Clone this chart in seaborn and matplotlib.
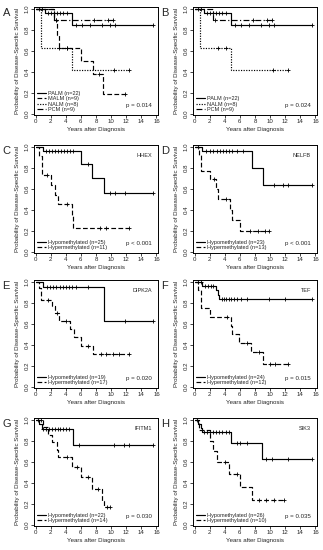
import matplotlib
matplotlib.use('Agg')
import matplotlib.pyplot as plt
import numpy as np
import pandas as pd
import seaborn as sns

# ---- Kaplan-Meier curves: step times, survival, censor times ----
# A / B : histologic subtypes
palm_t = [0, 1.2, 4.8, 15.5]
palm_s = [1.0, 0.955, 0.84, 0.84]
palm_c = [0.5, 0.8, 1.6, 2.0, 2.5, 2.9, 3.3, 3.7, 4.1, 5.3, 6.2, 7.2, 8.8, 9.8, 10.5, 15.5]

malm_t = [0, 2.5, 2.9, 3.1, 6.0, 7.6, 8.9, 12.0]
malm_s = [1.0, 0.889, 0.75, 0.625, 0.5, 0.375, 0.1875, 0.1875]
malm_c = [2.7, 4.2, 8.4, 11.8]

nalm_t = [0, 0.7, 4.8, 12.3]
nalm_s = [1.0, 0.625, 0.417, 0.417]
nalm_c = [3.1, 4.1, 10.4, 12.3]

pcm_t = [0, 2.4, 10.5]
pcm_s = [1.0, 0.889, 0.889]
pcm_c = [2.7, 7.8, 9.6, 10.3]

# C : HHEX
hhex_lo_t = [0, 1.05, 6.0, 7.5, 9.0, 15.5]
hhex_lo_s = [1.0, 0.96, 0.83, 0.70, 0.555, 0.555]
hhex_lo_c = [1.4, 1.8, 2.2, 2.6, 3.0, 3.4, 3.8, 4.2, 4.6, 5.0, 7.0, 9.8, 10.5, 11.8, 15.5]
hhex_hi_t = [0, 0.5, 0.8, 2.1, 2.6, 3.0, 4.8, 5.0, 12.3]
hhex_hi_s = [1.0, 0.909, 0.727, 0.636, 0.545, 0.4545, 0.34, 0.227, 0.227]
hhex_hi_c = [1.5, 4.2, 8.5, 9.3, 12.3]

# D : NELFB
nelfb_lo_t = [0, 1.0, 7.6, 9.1, 15.5]
nelfb_lo_s = [1.0, 0.955, 0.796, 0.637, 0.637]
nelfb_lo_c = [0.5, 1.5, 2.0, 2.5, 3.0, 3.4, 3.8, 4.2, 4.6, 5.0, 5.6, 6.4, 10.5, 11.7, 12.3, 15.5]
nelfb_hi_t = [0, 0.6, 0.8, 2.1, 2.8, 3.1, 4.7, 5.0, 6.0, 9.8]
nelfb_hi_s = [1.0, 0.923, 0.769, 0.692, 0.6, 0.5, 0.4, 0.3, 0.2, 0.2]
nelfb_hi_c = [2.6, 4.1, 7.4, 8.4, 9.3, 9.8]

# E : DIPK2A
dipk_lo_t = [0, 1.0, 9.0, 15.5]
dipk_lo_s = [1.0, 0.947, 0.63, 0.63]
dipk_lo_c = [1.5, 1.9, 2.3, 2.7, 3.2, 3.6, 4.0, 4.4, 4.8, 5.3, 7.0, 11.8, 15.5]
dipk_hi_t = [0, 0.5, 0.7, 2.2, 2.6, 3.1, 4.6, 5.1, 6.0, 7.6, 12.3]
dipk_hi_s = [1.0, 0.941, 0.824, 0.765, 0.70, 0.63, 0.55, 0.47, 0.39, 0.31, 0.31]
dipk_hi_c = [1.6, 2.8, 4.0, 7.0, 8.6, 9.3, 10.2, 11.0, 12.3]

# F : TEF
tef_lo_t = [0, 1.0, 2.8, 3.1, 3.3, 15.5]
tef_lo_s = [1.0, 0.958, 0.917, 0.875, 0.833, 0.833]
tef_lo_c = [0.5, 0.8, 1.4, 1.8, 2.2, 2.5, 3.6, 3.9, 4.2, 4.5, 4.8, 5.2, 5.6, 6.2, 7.0, 9.8, 12.0, 15.5]
tef_hi_t = [0, 0.5, 0.8, 2.0, 4.8, 5.0, 5.9, 7.5, 9.0, 12.3]
tef_hi_s = [1.0, 0.917, 0.75, 0.667, 0.583, 0.50, 0.417, 0.333, 0.222, 0.222]
tef_hi_c = [4.3, 7.0, 8.5, 10.0, 10.6, 12.3]

# G : IFITM1
ifitm_lo_t = [0, 0.5, 0.8, 4.9, 15.5]
ifitm_lo_s = [1.0, 0.955, 0.909, 0.758, 0.758]
ifitm_lo_c = [0.3, 1.0, 1.4, 1.8, 2.2, 2.6, 3.0, 3.3, 3.6, 4.0, 4.4, 5.8, 10.4, 11.7, 12.3, 15.5]
ifitm_hi_t = [0, 1.0, 1.6, 2.2, 2.8, 3.0, 4.8, 6.0, 7.5, 8.8, 9.0, 9.8]
ifitm_hi_s = [1.0, 0.929, 0.857, 0.786, 0.714, 0.643, 0.551, 0.459, 0.344, 0.229, 0.172, 0.172]
ifitm_hi_c = [0.7, 4.2, 5.5, 7.0, 8.3, 9.5, 9.8]

# H : SIK3
sik3_lo_t = [0, 0.5, 0.8, 1.0, 4.8, 8.9, 15.5]
sik3_lo_s = [1.0, 0.962, 0.923, 0.885, 0.78, 0.625, 0.625]
sik3_lo_c = [0.3, 1.3, 1.7, 2.1, 2.5, 2.9, 3.3, 3.7, 4.1, 4.5, 5.6, 6.0, 7.0, 9.5, 10.3, 12.3, 15.5]
sik3_hi_t = [0, 0.6, 2.0, 2.5, 3.0, 4.6, 6.0, 7.6, 11.8]
sik3_hi_s = [1.0, 0.9, 0.8, 0.7, 0.6, 0.48, 0.36, 0.24, 0.24]
sik3_hi_c = [4.0, 5.6, 8.5, 9.5, 10.5, 11.8]

letters = ['A', 'B', 'C', 'D', 'E', 'F', 'G', 'H']
genes = [None, None, 'HHEX', 'NELFB', 'DIPK2A', 'TEF', 'IFITM1', 'SIK3']
pvals = ['p = 0.014', 'p = 0.024', 'p < 0.001', 'p < 0.001',
         'p = 0.020', 'p = 0.015', 'p = 0.030', 'p = 0.035']
n_lo = [None, None, 25, 23, 19, 24, 22, 26]
n_hi = [None, None, 11, 13, 17, 12, 14, 10]

x_ticks = [0, 2, 4, 6, 8, 10, 12, 14, 16]
y_ticks = [0.0, 0.2, 0.4, 0.6, 0.8, 1.0]

DASHDOT = (0, (5, 2, 1, 2))
FS = 4.4       # ticks, axis labels, p values
FS_LEG = 4.0   # legend entries

sns.set_theme(style='ticks')
plt.rcParams['font.family'] = ['Liberation Sans', 'DejaVu Sans']
plt.rcParams['axes.linewidth'] = 0.7


def km_curve(ax, times, surv, cens, ls, label):
    df = pd.DataFrame({'t': times, 's': surv})
    sns.lineplot(data=df, x='t', y='s', ax=ax, drawstyle='steps-post', color='black',
                 linewidth=0.85, linestyle=ls, label=label, sort=False, estimator=None)
    idx = np.searchsorted(times, cens, side='right') - 1
    cy = np.asarray(surv)[idx]
    sns.scatterplot(x=cens, y=cy, ax=ax, marker='+', color='black', s=10,
                    linewidth=0.6, legend=False)


curves = [
    [(palm_t, palm_s, palm_c, '-', 'PALM (n=22)'),
     (malm_t, malm_s, malm_c, (0, (4, 2)), 'MALM (n=9)'),
     (nalm_t, nalm_s, nalm_c, (0, (1, 1.2)), 'NALM (n=8)'),
     (pcm_t, pcm_s, pcm_c, DASHDOT, 'PCM (n=9)')],
    [(palm_t, palm_s, palm_c, '-', 'PALM (n=22)'),
     (nalm_t, nalm_s, nalm_c, (0, (1, 1.2)), 'NALM (n=8)'),
     (pcm_t, pcm_s, pcm_c, DASHDOT, 'PCM (n=9)')],
    [(hhex_lo_t, hhex_lo_s, hhex_lo_c), (hhex_hi_t, hhex_hi_s, hhex_hi_c)],
    [(nelfb_lo_t, nelfb_lo_s, nelfb_lo_c), (nelfb_hi_t, nelfb_hi_s, nelfb_hi_c)],
    [(dipk_lo_t, dipk_lo_s, dipk_lo_c), (dipk_hi_t, dipk_hi_s, dipk_hi_c)],
    [(tef_lo_t, tef_lo_s, tef_lo_c), (tef_hi_t, tef_hi_s, tef_hi_c)],
    [(ifitm_lo_t, ifitm_lo_s, ifitm_lo_c), (ifitm_hi_t, ifitm_hi_s, ifitm_hi_c)],
    [(sik3_lo_t, sik3_lo_s, sik3_lo_c), (sik3_hi_t, sik3_hi_s, sik3_hi_c)],
]

fig = plt.figure(figsize=(3.23, 5.5), dpi=100)
col_left = [34 / 323, 193 / 323]
row_top = [7, 145, 280, 418]
ax_w = 124 / 323
ax_h = 108 / 550

for i, spec in enumerate(curves):
    r, c = divmod(i, 2)
    ax = fig.add_axes([col_left[c], 1 - (row_top[r] + 108) / 550, ax_w, ax_h])
    if i < 2:
        for t, s, cc, ls, lab in spec:
            km_curve(ax, t, s, cc, ls, lab)
    else:
        (t1, s1, c1), (t2, s2, c2) = spec
        km_curve(ax, t1, s1, c1, '-', f'Hypomethylated (n={n_lo[i]})')
        km_curve(ax, t2, s2, c2, (0, (4, 2)), f'Hypermethylated (n={n_hi[i]})')
        ax.text(0.95, 0.905, genes[i], transform=ax.transAxes, ha='right',
                va='center', fontsize=FS_LEG)

    ax.set_xlim(-0.2, 16.2)
    ax.set_ylim(-0.01, 1.015)
    ax.set_xticks(x_ticks)
    ax.set_yticks(y_ticks)
    ax.set_yticklabels([f'{v:.1f}' for v in y_ticks], rotation=90, va='center')
    ax.tick_params(labelsize=FS, length=2, width=0.6, pad=1.2)
    for sp in ax.spines.values():
        sp.set_visible(True)
        sp.set_linewidth(0.7)
        sp.set_color('black')
    ax.set_xlabel('Years after Diagnosis', fontsize=FS, labelpad=1.5)
    ax.set_ylabel('Probability of Disease-Specific Survival', fontsize=FS, labelpad=3)
    ax.legend(loc='lower left', frameon=False, fontsize=FS_LEG, handlelength=1.6,
              handletextpad=0.5, labelspacing=0.1, borderaxespad=0.3, borderpad=0.2)
    ax.text(0.95, 0.085, pvals[i], transform=ax.transAxes, ha='right',
            va='center', fontsize=FS)
    fig.text(0.008 if c == 0 else 0.5, 1 - (row_top[r] + 1) / 550, letters[i],
             fontsize=8, ha='left', va='top')

fig.savefig('out.png', dpi=100)
